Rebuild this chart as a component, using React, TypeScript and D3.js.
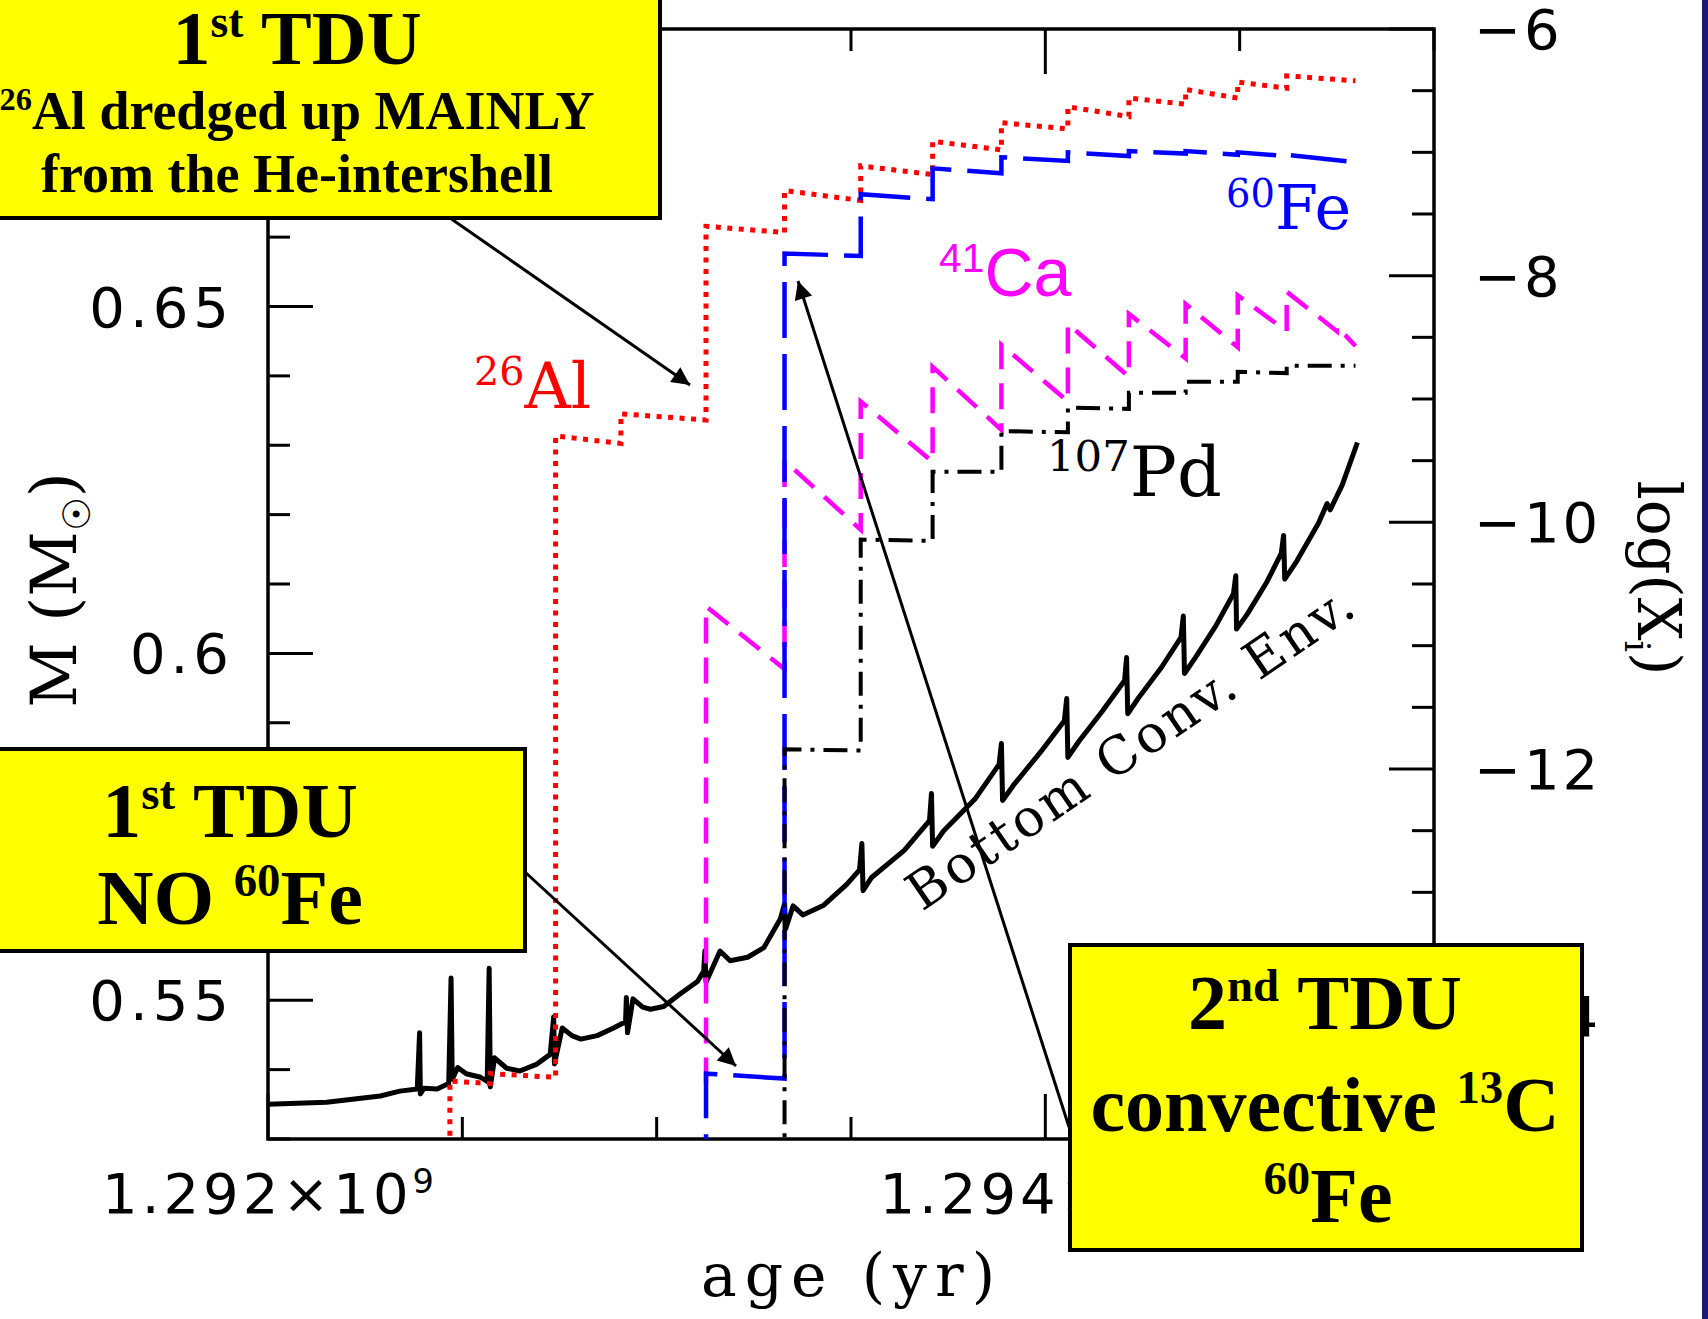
import { useEffect, useRef } from 'react';
import * as d3 from 'd3';

// ages are in Myr after 1.292e9 yr
const lastAge = 2.798;

// bottom of the convective envelope, M (Msun)
const envAge = [0, 0.151, 0.289, 0.339, 0.384, 0.390, 0.392, 0.401, 0.435, 0.465, 0.471, 0.474, 0.488, 0.510, 0.547, 0.564, 0.569, 0.572, 0.583, 0.614, 0.648, 0.692, 0.726, 0.735, 0.737, 0.757, 0.782, 0.805, 0.847, 0.889, 0.920, 0.922, 0.925, 0.939, 0.964, 0.984, 1.018, 1.060, 1.105, 1.121, 1.124, 1.127, 1.163, 1.189, 1.234, 1.276, 1.318, 1.329, 1.332, 1.351, 1.376, 1.430, 1.489, 1.522, 1.528, 1.531, 1.553, 1.637, 1.702, 1.707, 1.710, 1.738, 1.819, 1.881, 1.887, 1.890, 1.918, 1.988, 2.049, 2.055, 2.058, 2.086, 2.147, 2.204, 2.209, 2.212, 2.240, 2.299, 2.349, 2.355, 2.358, 2.386, 2.439, 2.484, 2.490, 2.492, 2.520, 2.568, 2.607, 2.613, 2.616, 2.647, 2.703, 2.725, 2.733, 2.764, 2.803];
const envMass = [0.5350, 0.5353, 0.5362, 0.5369, 0.5372, 0.5453, 0.5365, 0.5373, 0.5372, 0.5380, 0.5532, 0.5386, 0.5403, 0.5394, 0.5389, 0.5383, 0.5546, 0.5375, 0.5417, 0.5402, 0.5398, 0.5408, 0.5422, 0.5476, 0.5408, 0.5460, 0.5449, 0.5444, 0.5449, 0.5460, 0.5469, 0.5504, 0.5453, 0.5502, 0.5490, 0.5487, 0.5491, 0.5509, 0.5527, 0.5542, 0.5571, 0.5526, 0.5571, 0.5557, 0.5562, 0.5576, 0.5617, 0.5639, 0.5603, 0.5636, 0.5623, 0.5637, 0.5667, 0.5688, 0.5726, 0.5658, 0.5677, 0.5716, 0.5759, 0.5798, 0.5722, 0.5744, 0.5790, 0.5840, 0.5870, 0.5788, 0.5810, 0.5858, 0.5903, 0.5935, 0.5850, 0.5873, 0.5917, 0.5961, 0.5994, 0.5913, 0.5936, 0.5980, 0.6023, 0.6054, 0.5971, 0.5994, 0.6040, 0.6086, 0.6112, 0.6035, 0.6057, 0.6101, 0.6144, 0.6170, 0.6107, 0.6133, 0.6188, 0.6216, 0.6207, 0.6243, 0.6304];

// surface abundances log(X): step start ages, value right after the step, value just before the next step
const al26Age = [0.468, 0.572, 0.740, 0.908, 1.127, 1.329, 1.525, 1.710, 1.887, 2.058, 2.215, 2.361, 2.495, 2.621];
const al26Start = [-14.53, -14.47, -9.30, -9.12, -7.60, -7.31, -7.11, -6.91, -6.76, -6.63, -6.56, -6.49, -6.43, -6.38];
const al26End = [-14.55, -14.50, -9.36, -9.17, -7.65, -7.39, -7.18, -6.98, -6.81, -6.71, -6.61, -6.56, -6.48, -6.42];

const fe60Age = [1.127, 1.329, 1.525, 1.710, 1.887, 2.058, 2.215, 2.361, 2.495, 2.621];
const fe60Start = [-14.47, -7.82, -7.34, -7.13, -7.04, -7.00, -6.99, -6.99, -7.00, -7.02];
const fe60End = [-14.51, -7.84, -7.38, -7.17, -7.07, -7.03, -7.01, -7.02, -7.03, -7.08];

const ca41Age = [1.127, 1.329, 1.525, 1.710, 1.887, 2.058, 2.215, 2.361, 2.495, 2.621, 2.750];
const ca41Start = [-10.68, -9.50, -9.02, -8.74, -8.56, -8.39, -8.31, -8.23, -8.16, -8.13, -8.41];
const ca41End = [-11.19, -10.06, -9.51, -9.25, -9.02, -8.82, -8.67, -8.58, -8.45, -8.45, -8.57];

const pd107Age = [1.329, 1.525, 1.710, 1.887, 2.058, 2.215, 2.361, 2.495, 2.621];
const pd107Start = [-11.84, -10.14, -9.59, -9.26, -9.07, -8.95, -8.86, -8.78, -8.73];
const pd107End = [-11.85, -10.15, -9.59, -9.27, -9.08, -8.95, -8.86, -8.79, -8.73];

// axis labels
const massTicks = [0.55, 0.6, 0.65];
const massTickLabels = ['0.55', '0.6', '0.65'];
const logTicks = [-6, -8, -10, -12, -14];
const logTickLabels = ['\u22126', '\u22128', '\u221210', '\u221212', '\u221214'];
const ageTicks = [0, 2];
const ageTickLabels = ['1.292', '1.294'];

type Part = [string, string?];

const W = 1708;
const H = 1319;

function stepPoints(ages: number[], starts: number[], ends: number[], floor: number) {
  const pts: [number, number][] = [[ages[0], floor]];
  ages.forEach((a, i) => {
    const next = i < ages.length - 1 ? ages[i + 1] : lastAge;
    pts.push([a, starts[i]], [next, ends[i]]);
  });
  return pts;
}

function richText(g: any, x: number, y: number, parts: Part[], size: number, attrs: Record<string, any>, supScale = 0.6) {
  const t = g.append('text').attr('x', x).attr('y', y).attr('font-size', size);
  Object.entries(attrs).forEach(([k, v]) => t.attr(k, v));
  let shift = 0;
  parts.forEach(([s, kind]) => {
    const target = kind === 'sup' ? -0.36 * size : kind === 'sub' ? 0.22 * size : 0;
    const ts = t.append('tspan').attr('dy', target - shift).text(s);
    if (kind) ts.attr('font-size', size * supScale);
    shift = target;
  });
  return t;
}

const App = () => {
  const svgRef = useRef<SVGSVGElement>(null);

  useEffect(() => {
    const svg = d3.select(svgRef.current);
    svg.selectAll('*').remove();

    const x = d3.scaleLinear().domain([0, 3]).range([268, 1434]);
    const yM = d3.scaleLinear().domain([0.53, 0.69]).range([1139, 29]);
    const yX = d3.scaleLinear().domain([-15, -6]).range([1139, 29]);

    svg.append('rect').attr('width', W).attr('height', H).attr('fill', '#fff');
    svg.append('rect').attr('x', 1702).attr('width', 6).attr('height', H).attr('fill', '#1b1b70');

    svg.append('clipPath').attr('id', 'plotClip')
      .append('rect').attr('x', 268).attr('y', 29).attr('width', 1166).attr('height', 1110);

    // ticks
    const tk = svg.append('g').attr('stroke', '#000').attr('stroke-width', 3);
    for (let k = 0; k <= 6; k++) {
      const t = k / 2;
      const len = k % 4 === 0 ? 45 : 22;
      tk.append('line').attr('x1', x(t)).attr('x2', x(t)).attr('y1', 1139).attr('y2', 1139 - len);
      tk.append('line').attr('x1', x(t)).attr('x2', x(t)).attr('y1', 29).attr('y2', 29 + len);
    }
    for (let k = 53; k <= 69; k++) {
      const len = k % 5 === 0 ? 45 : 22;
      tk.append('line').attr('x1', 268).attr('x2', 268 + len).attr('y1', yM(k / 100)).attr('y2', yM(k / 100));
    }
    for (let k = -30; k <= -12; k++) {
      const len = k % 4 === 0 ? 45 : 22;
      tk.append('line').attr('x1', 1434).attr('x2', 1434 - len).attr('y1', yX(k / 2)).attr('y2', yX(k / 2));
    }
    svg.append('rect').attr('x', 268).attr('y', 29).attr('width', 1166).attr('height', 1110)
      .attr('fill', 'none').attr('stroke', '#000').attr('stroke-width', 3.5);

    // tick labels
    const numFont = { 'font-family': 'DejaVu Sans', 'letter-spacing': 5, fill: '#000' };
    massTicks.forEach((v, i) => {
      richText(svg, 234, yM(v) + 20, [[massTickLabels[i]]], 56, { ...numFont, 'text-anchor': 'end' });
    });
    logTicks.forEach((v, i) => {
      richText(svg, 1474, yX(v) + 20, [[logTickLabels[i]]], 56, { ...numFont, 'letter-spacing': 3, 'text-anchor': 'start' });
    });
    ageTicks.forEach((v, i) => {
      richText(svg, x(v) + 2, 1213, [[ageTickLabels[i] + '\u00d710'], ['9', 'sup']], 56,
        { ...numFont, 'letter-spacing': 4, 'text-anchor': 'middle' });
    });

    // axis titles
    const serif = { 'font-family': 'DejaVu Serif', fill: '#000' };
    svg.append('text').attr('x', 852).attr('y', 1296).attr('text-anchor', 'middle')
      .attr('font-family', 'DejaVu Serif').attr('font-size', 60).attr('letter-spacing', 8).text('age (yr)');
    richText(svg, 0, 0, [['M ('], ['M'], ['\u2609', 'sub'], [')']], 64,
      { ...serif, 'text-anchor': 'middle', transform: 'translate(76,590) rotate(-90)' });
    richText(svg, 0, 0, [['log(X'], ['i', 'sub'], [')']], 60,
      { ...serif, 'text-anchor': 'middle', transform: 'translate(1638,578) rotate(90)' });

    // curves
    const data = svg.append('g').attr('clip-path', 'url(#plotClip)').attr('fill', 'none');
    const envLine = d3.line<number>().x((d) => x(d)).y((_, i) => yM(envMass[i]));
    data.append('path').attr('d', envLine(envAge)).attr('stroke', '#000').attr('stroke-width', 5)
      .attr('stroke-linejoin', 'round');

    const logLine = d3.line<[number, number]>().x((d) => x(d[0])).y((d) => yX(d[1]));
    data.append('path').attr('d', logLine(stepPoints(al26Age, al26Start, al26End, -16)))
      .attr('stroke', '#ff0000').attr('stroke-width', 5).attr('stroke-dasharray', '5 6.5');
    data.append('path').attr('d', logLine(stepPoints(ca41Age, ca41Start, ca41End, -14.55)))
      .attr('stroke', '#ff00ff').attr('stroke-width', 4.5).attr('stroke-dasharray', '26 14');
    data.append('path').attr('d', logLine(stepPoints(fe60Age, fe60Start, fe60End, -16)))
      .attr('stroke', '#0000ff').attr('stroke-width', 4.5).attr('stroke-dasharray', '56 16');
    data.append('path').attr('d', logLine(stepPoints(pd107Age, pd107Start, pd107End, -16)))
      .attr('stroke', '#000').attr('stroke-width', 4).attr('stroke-dasharray', '24 9 4 9');

    // curve labels
    richText(svg, 474, 408, [['26', 'sup'], ['Al']], 64, { ...serif, fill: '#ff0000' }, 0.62);
    richText(svg, 1226, 229, [['60', 'sup'], ['Fe']], 62, { ...serif, fill: '#0000ff' }, 0.62);
    richText(svg, 939, 296, [['41', 'sup'], ['Ca']], 68, { 'font-family': 'Liberation Sans', fill: '#ff00ff' });
    richText(svg, 1047, 496, [['107', 'sup'], ['Pd']], 70, { ...serif }, 0.62);
    svg.append('text').attr('transform', 'translate(922,912) rotate(-34.4)')
      .attr('font-family', 'DejaVu Serif').attr('font-size', 52).attr('letter-spacing', 3)
      .text('Bottom Conv. Env.');

    // arrows
    const defs = svg.append('defs');
    defs.append('marker').attr('id', 'arrow').attr('viewBox', '0 0 10 10').attr('refX', 10).attr('refY', 5)
      .attr('markerUnits', 'userSpaceOnUse').attr('markerWidth', 24).attr('markerHeight', 18).attr('orient', 'auto')
      .append('path').attr('d', 'M0,0 L10,5 L0,10 z').attr('fill', '#000');
    const arrows = [[450, 218, 690, 385], [525, 872, 736, 1066], [1069, 1127, 798, 281]];
    arrows.forEach(([x1, y1, x2, y2]) => {
      svg.append('line').attr('x1', x1).attr('y1', y1).attr('x2', x2).attr('y2', y2)
        .attr('stroke', '#000').attr('stroke-width', 3).attr('marker-end', 'url(#arrow)');
    });

    // yellow notes
    const bold = { 'font-family': 'Liberation Serif', 'font-weight': 'bold', fill: '#000', 'text-anchor': 'middle' };
    const box = (bx: number, by: number, bw: number, bh: number) =>
      svg.append('rect').attr('x', bx).attr('y', by).attr('width', bw).attr('height', bh)
        .attr('fill', '#ffff00').attr('stroke', '#000').attr('stroke-width', 4);

    box(-68, -40, 728, 258);
    richText(svg, 297, 64, [['1'], ['st', 'sup'], [' TDU']], 76, bold);
    richText(svg, 297, 129, [['26', 'sup'], ['Al dredged up MAINLY']], 54, bold);
    richText(svg, 297, 192, [['from the He-intershell']], 54, bold);

    box(-40, 749, 565, 202);
    richText(svg, 230, 837, [['1'], ['st', 'sup'], [' TDU']], 78, bold);
    richText(svg, 230, 924, [['NO '], ['60', 'sup'], ['Fe']], 78, bold);

    box(1070, 945, 512, 305);
    richText(svg, 1325, 1029, [['2'], ['nd', 'sup'], [' TDU']], 78, bold);
    richText(svg, 1325, 1131, [['convective '], ['13', 'sup'], ['C']], 78, bold);
    richText(svg, 1328, 1222, [['60', 'sup'], ['Fe']], 78, bold);
  }, []);

  return (
    <svg ref={svgRef} width={W} height={H} style={{ position: 'absolute', left: 0, top: 0 }} />
  );
};

export default App;
